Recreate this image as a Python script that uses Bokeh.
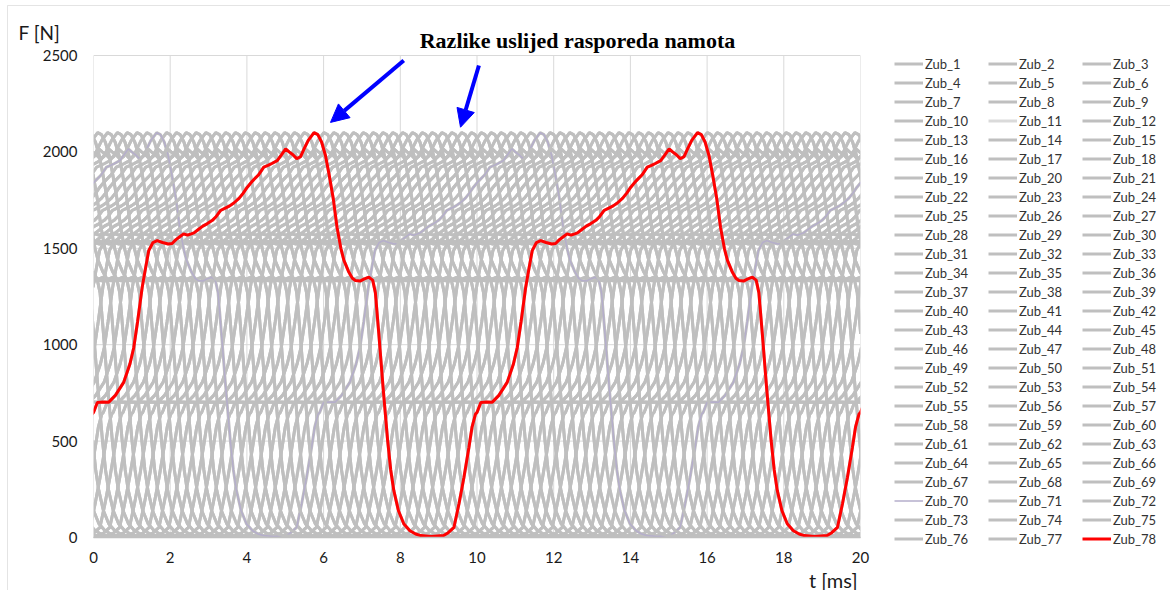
import numpy as np
from bokeh.plotting import figure
from bokeh.models import (Range1d, Legend, LegendItem, Label, Arrow, NormalHead,
                          FixedTicker, BoxAnnotation)
from bokeh.embed import file_html
from bokeh.resources import INLINE

# ---- data -----------------------------------------------------------------
# one period (10 ms) of the tooth force of Zub_78 (red curve), t in ms, F in N
base_t = [0.00, 0.10, 0.25, 0.40, 0.57, 0.79, 0.95, 1.05, 1.15, 1.27, 1.36, 1.44,
          1.55, 1.66, 1.80, 1.95, 2.05, 2.15, 2.25, 2.35, 2.45, 2.55, 2.62, 2.75,
          2.85, 2.96, 3.10, 3.20, 3.31, 3.45, 3.55, 3.66, 3.80, 3.90, 4.01, 4.15,
          4.30, 4.44, 4.55, 4.65, 4.79, 4.90, 5.01, 5.10, 5.20, 5.30, 5.40, 5.50,
          5.60, 5.75, 5.85, 5.95, 6.05, 6.14, 6.25, 6.35, 6.45, 6.53, 6.65, 6.75,
          6.83, 6.95, 7.05, 7.18, 7.28, 7.35, 7.44, 7.55, 7.67, 7.75, 7.83, 7.95,
          8.09, 8.25, 8.40, 8.53, 8.80, 9.13, 9.25, 9.40, 9.53, 9.66, 9.79, 9.87,
          9.96]
base_F = [648, 700, 703, 702, 737, 806, 900, 985, 1120, 1298, 1400, 1488,
          1530, 1540, 1530, 1522, 1525, 1545, 1560, 1575, 1568, 1575, 1580, 1600,
          1615, 1627, 1645, 1665, 1696, 1710, 1720, 1735, 1760, 1785, 1817, 1850,
          1880, 1921, 1930, 1940, 1955, 1985, 2016, 2000, 1985, 1965, 1975, 2020,
          2060, 2100, 2090, 2050, 1980, 1886, 1760, 1609, 1500, 1437, 1380, 1345,
          1333, 1330, 1340, 1350, 1335, 1270, 1056, 780, 503, 350, 244, 140,
          71, 35, 18, 10, 5, 10, 25, 53, 175, 313, 468, 572,
          640]
period_ms = 10.0
n_teeth = 78
pole_pairs = 4           # tooth k lags tooth k+1 by pole_pairs/n_teeth of a period
tooth_names = [f"Zub_{k}" for k in range(1, n_teeth + 1)]
x_ticks = [0, 2, 4, 6, 8, 10, 12, 14, 16, 18, 20]
y_ticks = [0, 500, 1000, 1500, 2000, 2500]
title_text = "Razlike uslijed rasporeda namota"
arrow_tail_t = [8.09, 10.05]
arrow_tail_F = [2474, 2448]
arrow_tip_t = [6.18, 9.57]
arrow_tip_F = [2153, 2128]

# ---- layout (pixels) --------------------------------------------------------
W, H = 1170, 590
frame_l, frame_r, frame_t, frame_b = 93, 860, 55, 537   # plot area in the picture
px_per_ms = (frame_r - frame_l) / (x_ticks[-1] - x_ticks[0])
px_per_N = (frame_b - frame_t) / (y_ticks[-1] - y_ticks[0])
x0r = x_ticks[0] - frame_l / px_per_ms
x1r = x_ticks[-1] + (W - frame_r) / px_per_ms
y0r = y_ticks[0] - (H - frame_b) / px_per_N
y1r = y_ticks[-1] + frame_t / px_per_N

p = figure(width=W, height=H, title=None, output_backend="svg", toolbar_location=None,
           x_range=Range1d(x0r, x1r), y_range=Range1d(y0r, y1r), min_border=0,
           background_fill_color="white", border_fill_color="white")
p.outline_line_color = None
p.xgrid.visible = False
p.ygrid.visible = False

# grid lines limited to the data area
n_x, n_y = len(x_ticks), len(y_ticks)
p.segment(x0=x_ticks, y0=[y_ticks[0]] * n_x, x1=x_ticks, y1=[y_ticks[-1]] * n_x,
          line_color="#d9d9d9", line_width=1)
p.segment(x0=[x_ticks[0]] * n_y, y0=y_ticks, x1=[x_ticks[-1]] * n_y, y1=y_ticks,
          line_color="#d9d9d9", line_width=1)

t_arr = np.array(base_t)
F_arr = np.array(base_F)
step = period_ms * pole_pairs / n_teeth


def tiled(shift):
    xs = np.concatenate([t_arr + shift + period_ms * n for n in range(-1, 3)])
    ys = np.tile(F_arr, 4)
    inside = np.where((xs >= x_ticks[0]) & (xs <= x_ticks[-1]))[0]
    i0 = max(inside[0] - 1, 0)
    i1 = min(inside[-1] + 2, len(xs))
    return xs[i0:i1], ys[i0:i1]


items = []
for k, name in enumerate(tooth_names, start=1):
    shift = (-(n_teeth - k) * step) % period_ms
    xs, ys = tiled(shift)
    if k == 78:
        color, lw = "#ff0000", 3
    elif k == 70:
        color, lw = "#b5aecb", 1.5
    elif k == 11:
        color, lw = "#dadada", 3
    else:
        color, lw = "#bfbfbf", 3
    r = p.line(xs, ys, line_color=color, line_width=lw)
    items.append(LegendItem(label=name, renderers=[r]))

# mask everything outside 0..20 ms
p.add_layout(BoxAnnotation(left=x0r - 1, right=x_ticks[0], fill_color="white", fill_alpha=1,
                           line_alpha=0, level="glyph"))
p.add_layout(BoxAnnotation(left=x_ticks[-1], right=x1r + 1, fill_color="white", fill_alpha=1,
                           line_alpha=0, level="glyph"))

# outer chart border
p.add_layout(BoxAnnotation(left=x0r + 7 / px_per_ms, right=x1r + 1,
                           top=y1r - 5 / px_per_N, bottom=y0r - 100,
                           fill_alpha=0, line_color="#a6a6a6", line_width=1))

# axes placed at t=0 and F=0
p.xaxis.fixed_location = 0
p.yaxis.fixed_location = 0
p.xaxis.bounds = (x_ticks[0], x_ticks[-1])
p.yaxis.bounds = (y_ticks[0], y_ticks[-1])
p.xaxis.ticker = FixedTicker(ticks=x_ticks)
p.yaxis.ticker = FixedTicker(ticks=y_ticks)
for ax in (p.xaxis, p.yaxis):
    ax.major_tick_line_color = None
    ax.minor_tick_line_color = None
    ax.major_tick_out = 0
    ax.major_tick_in = 0
    ax.minor_tick_out = 0
    ax.minor_tick_in = 0
    ax.major_label_text_font = "Lato"
    ax.major_label_text_font_size = "15px"
    ax.major_label_text_color = "#1a1a1a"
p.yaxis.axis_line_color = None
p.xaxis.axis_line_color = "#bfbfbf"
p.xaxis.axis_line_width = 1.5
p.xaxis.major_label_standoff = 14
p.yaxis.major_label_standoff = 16

legend = Legend(items=items, ncols=3, orientation="horizontal", location=(894, 42),
                glyph_width=29, glyph_height=19, label_height=19, label_width=63,
                label_standoff=2, spacing=0, padding=0, margin=0,
                border_line_alpha=0, background_fill_alpha=0,
                label_text_font="Lato", label_text_font_size="13px",
                label_text_color="#333333")
p.add_layout(legend)

# texts (screen units from the picture's left / bottom)
p.add_layout(Label(x=18, y=H - 32, x_units="screen", y_units="screen", text="F [N]",
                   text_font="Lato", text_font_size="19px", text_color="#1a1a1a",
                   text_align="left", text_baseline="middle"))
p.add_layout(Label(x=857, y=H - 579, x_units="screen", y_units="screen", text="t [ms]",
                   text_font="Lato", text_font_size="20px", text_color="#1a1a1a",
                   text_align="right", text_baseline="middle"))
p.add_layout(Label(x=577, y=H - 40, x_units="screen", y_units="screen", text=title_text,
                   text_font="Liberation Serif", text_font_style="bold",
                   text_font_size="22px", text_color="#000000",
                   text_align="center", text_baseline="middle"))

for xs_, ys_, xe_, ye_ in zip(arrow_tail_t, arrow_tail_F, arrow_tip_t, arrow_tip_F):
    p.add_layout(Arrow(end=NormalHead(size=18, fill_color="#0000ff", line_color="#0000ff"),
                       x_start=xs_, y_start=ys_, x_end=xe_, y_end=ye_,
                       line_color="#0000ff", line_width=4))

open("out.html", "w").write(file_html(p, INLINE))
